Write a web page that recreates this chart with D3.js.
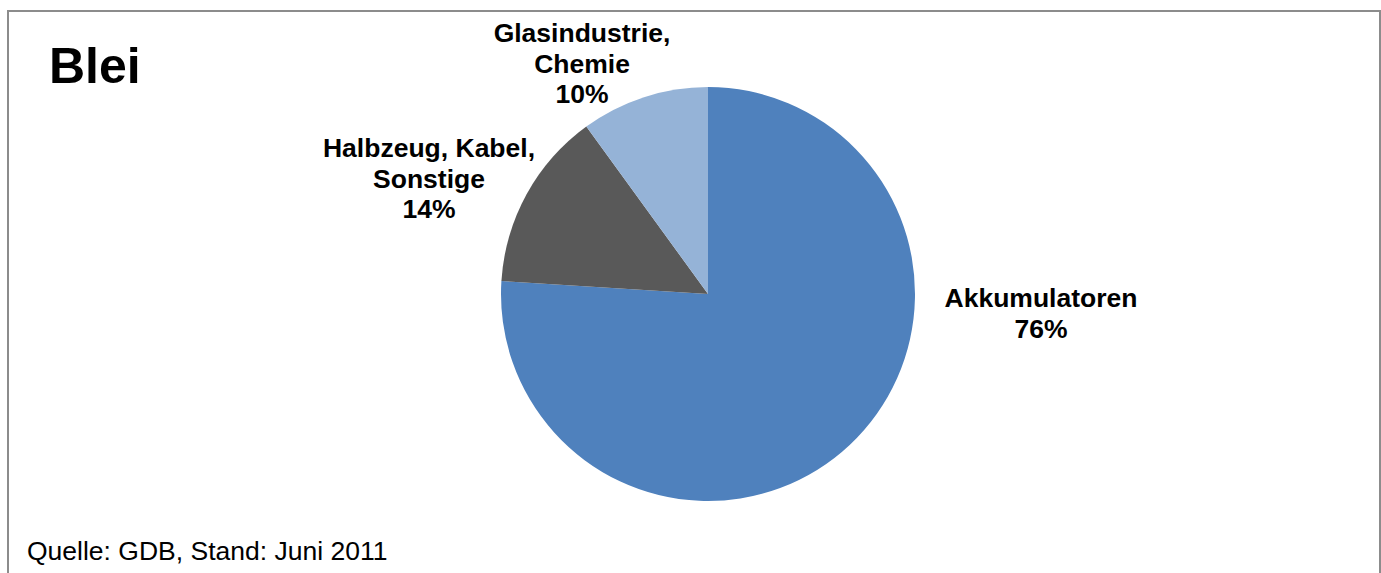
<!DOCTYPE html>
<html>
<head>
<meta charset="utf-8">
<script src="https://cdn.jsdelivr.net/npm/d3@7"></script>
<style>
  body { margin: 0; background: #fff; }
  text { font-family: "Liberation Sans", Arial, sans-serif; }
</style>
</head>
<body>
<div id="chart-area"></div>
<script>
const categories = ['Akkumulatoren', 'Halbzeug, Kabel, Sonstige', 'Glasindustrie, Chemie'];
const values = [76, 14, 10];
const labelLines = [['Akkumulatoren'], ['Halbzeug, Kabel,', 'Sonstige'], ['Glasindustrie,', 'Chemie']];

const colors = ['#4F81BD', '#595959', '#95B3D7'];

const width = 1381, height = 573;
const cx = 708, cy = 294, radius = 207;

// label anchor (centre of first line), relative to the pie centre
const labelOffset = [[333, 13], [-279, -137], [-126, -252]];
const lineHeight = 30.5;

var svg = d3.select("#chart-area").append("svg")
    .attr("width", width)
    .attr("height", height);

svg.append("rect")
    .attr("x", 8).attr("y", 11)
    .attr("width", 1372).attr("height", 600)
    .attr("fill", "none")
    .attr("stroke", "#8c8c8c")
    .attr("stroke-width", 2);

svg.append("text")
    .attr("x", 49).attr("y", 83)
    .attr("font-size", 50)
    .attr("font-weight", "bold")
    .text("Blei");

var pie = d3.pie().sort(null).value(d => d);
var arc = d3.arc().innerRadius(0).outerRadius(radius);

var g = svg.append("g")
    .attr("transform", "translate(" + cx + "," + cy + ")");

g.selectAll("path")
    .data(pie(values))
    .enter()
    .append("path")
    .attr("fill", (d, i) => colors[i])
    .attr("d", arc);

var labels = g.selectAll("text.lab")
    .data(pie(values))
    .enter()
    .append("text")
    .attr("class", "lab")
    .attr("text-anchor", "middle")
    .attr("font-size", 26.5)
    .attr("font-weight", "bold")
    .attr("x", (d, i) => labelOffset[i][0])
    .attr("y", (d, i) => labelOffset[i][1]);

labels.each(function(d, i) {
  var t = d3.select(this);
  var lines = labelLines[i].concat([d.data + '%']);
  lines.forEach((s, j) => {
    t.append("tspan")
      .attr("x", labelOffset[i][0])
      .attr("dy", j === 0 ? 0 : lineHeight)
      .text(s);
  });
});

svg.append("text")
    .attr("x", 27).attr("y", 560)
    .attr("font-size", 26.5)
    .text("Quelle: GDB, Stand: Juni 2011");
</script>
</body>
</html>
